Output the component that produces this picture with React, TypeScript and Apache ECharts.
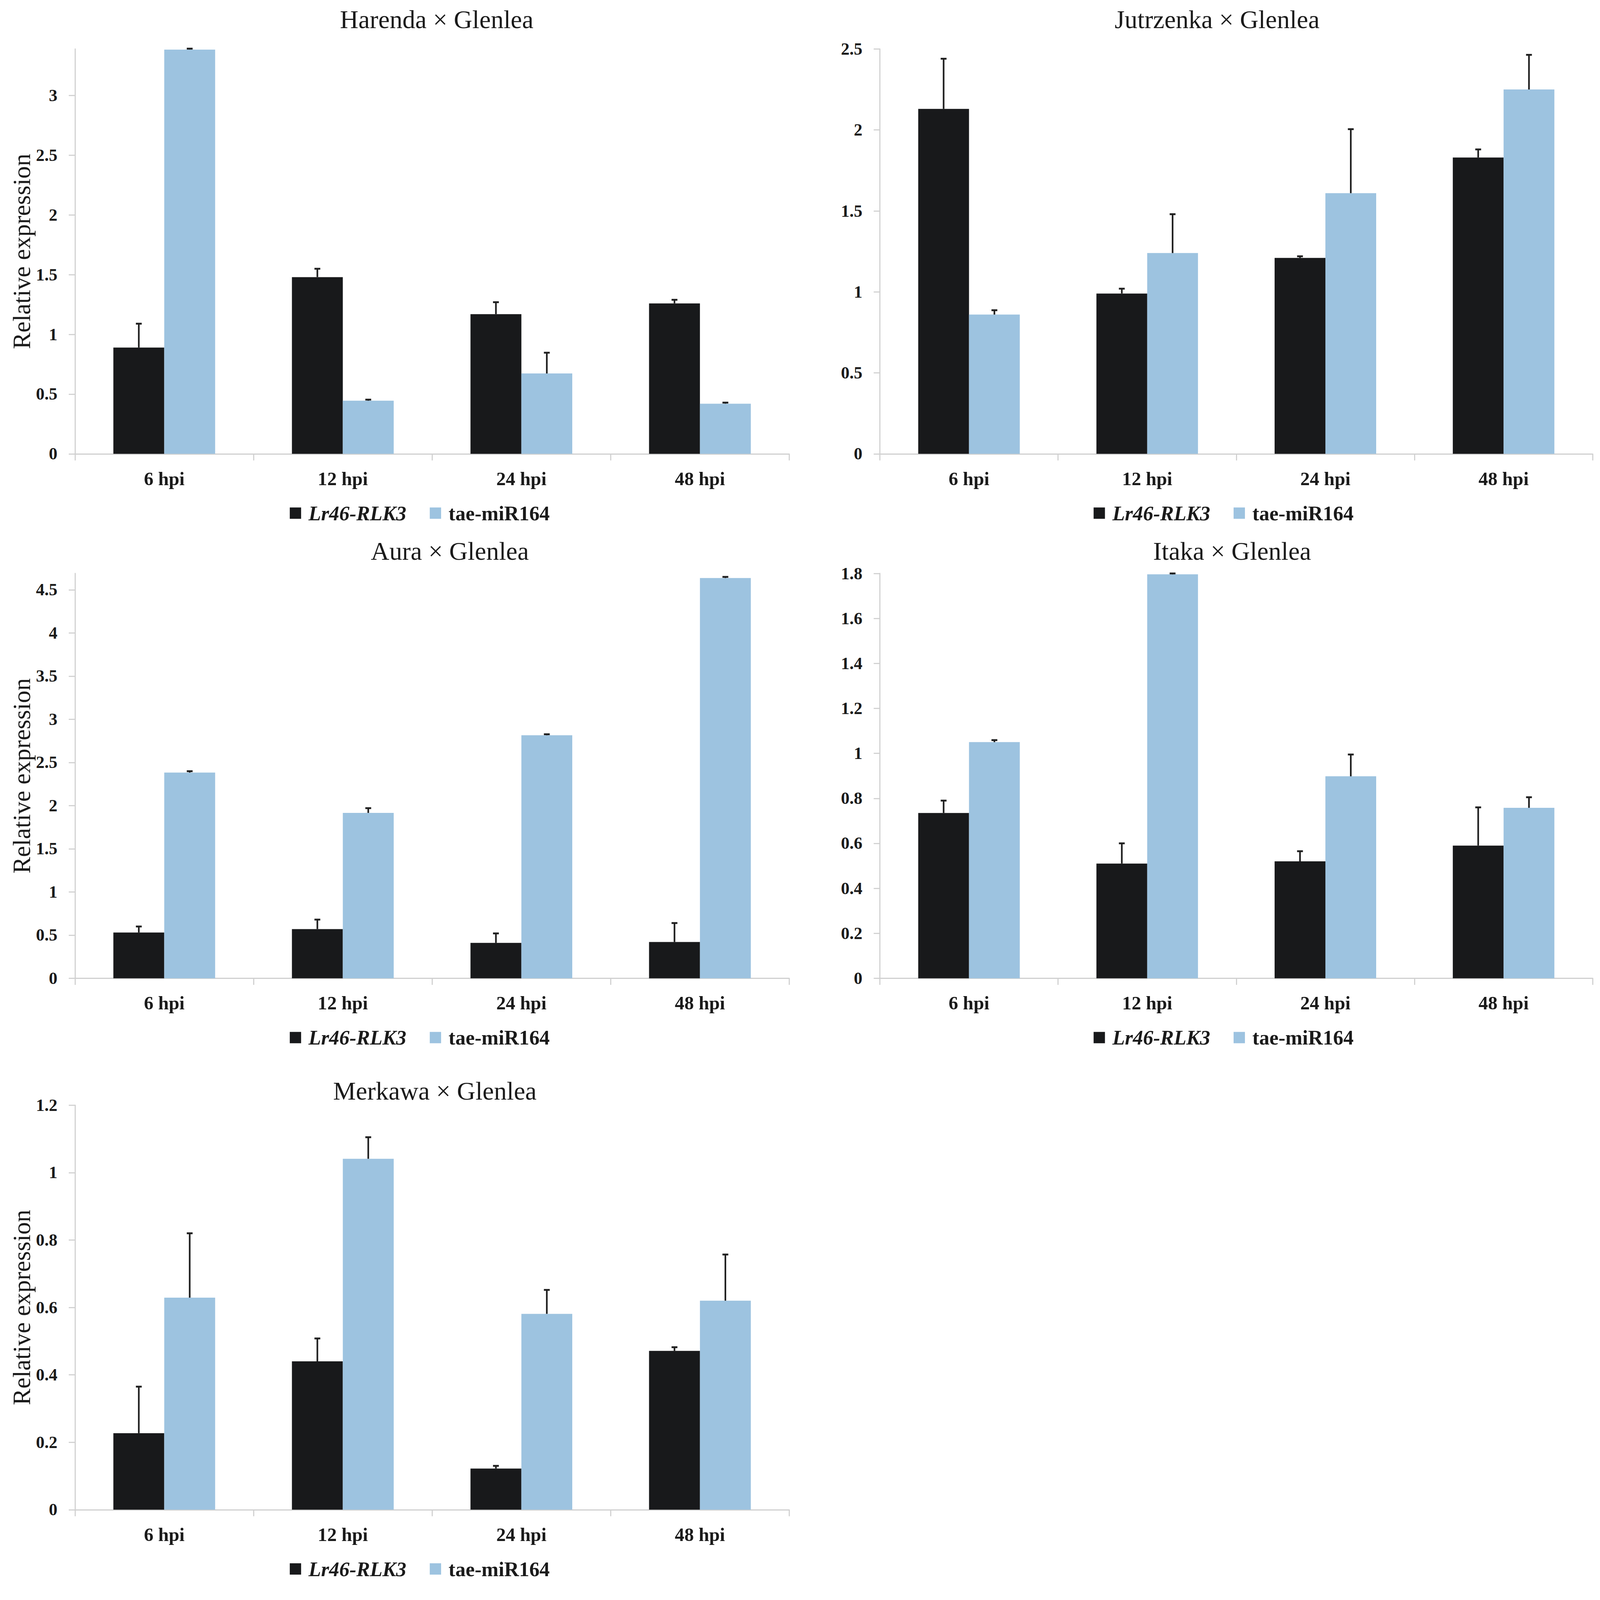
import React, { useEffect, useRef } from "react";
import * as echarts from "echarts";

const categories = ["6 hpi", "12 hpi", "24 hpi", "48 hpi"];
const seriesNames = ["Lr46-RLK3", "tae-miR164"];
const panelTitles = [
  "Harenda × Glenlea",
  "Jutrzenka × Glenlea",
  "Aura × Glenlea",
  "Itaka × Glenlea",
  "Merkawa × Glenlea",
];
const lrValues = [
  [0.89, 1.48, 1.17, 1.26],
  [2.13, 0.99, 1.21, 1.83],
  [0.53, 0.57, 0.41, 0.42],
  [0.735, 0.51, 0.52, 0.59],
  [0.227, 0.44, 0.122, 0.471],
];
const lrErrors = [
  [0.2, 0.07, 0.1, 0.03],
  [0.31, 0.03, 0.01, 0.05],
  [0.07, 0.11, 0.11, 0.22],
  [0.055, 0.09, 0.045, 0.17],
  [0.138, 0.068, 0.008, 0.011],
];
const taeValues = [
  [3.385, 0.445, 0.673, 0.42],
  [0.86, 1.24, 1.61, 2.25],
  [2.383, 1.916, 2.815, 4.637],
  [1.05, 1.796, 0.898, 0.758],
  [0.629, 1.041, 0.581, 0.62],
];
const taeErrors = [
  [0.008, 0.009, 0.174, 0.009],
  [0.027, 0.24, 0.395, 0.214],
  [0.016, 0.055, 0.012, 0.013],
  [0.009, 0.004, 0.097, 0.047],
  [0.191, 0.064, 0.071, 0.137],
];
const yMax = [3.39, 2.5, 4.69, 1.8, 1.2];
const yInterval = [0.5, 0.5, 0.5, 0.2, 0.2];
const showYName = [true, false, true, false, true];

const FONT = "'Liberation Serif', 'DejaVu Serif', serif";
const BLACK = "#18191b";
const BLUE = "#9dc3e0";
const AXIS = "#d0d0d0";
const TEXT = "#1a1a1a";
const CAT_GAP = 0.43;
const REF_W = 4375;
const REF_H = 4337;

const grids = [
  { left: 205, top: 134, width: 1953, height: 1107 },
  { left: 2406, top: 134, width: 1949, height: 1107 },
  { left: 205, top: 1568, width: 1953, height: 1107 },
  { left: 2406, top: 1568, width: 1949, height: 1107 },
  { left: 205, top: 3022, width: 1953, height: 1106 },
];
const titlePos = [
  [1194, 53],
  [3328, 53],
  [1230, 1507],
  [3369, 1507],
  [1189, 2983],
];
const legendPos = [
  [787, 1401],
  [2985, 1401],
  [787, 2835],
  [2985, 2835],
  [787, 4288],
];

export default function App() {
  const ref = useRef<HTMLDivElement>(null);
  useEffect(() => {
    const el = ref.current;
    if (!el) return;
    const vw = window.innerWidth || document.documentElement.clientWidth || REF_W;
    const vh = window.innerHeight || document.documentElement.clientHeight || REF_H;
    const s = Math.min(1, vw / REF_W, vh / REF_H);
    el.style.width = Math.floor(REF_W * s) + "px";
    el.style.height = Math.floor(REF_H * s) + "px";
    const chart = echarts.init(el, null, { renderer: "svg" });

    const xAxis: any[] = [];
    const yAxis: any[] = [];
    const series: any[] = [];
    const legend: any[] = [];
    const graphic: any[] = [];

    grids.forEach((g, i) => {
      xAxis.push({
        type: "category",
        gridIndex: i,
        data: categories,
        axisLine: { show: true, lineStyle: { color: AXIS, width: 3 * s } },
        axisTick: { show: true, length: 18 * s, lineStyle: { color: AXIS, width: 3 * s } },
        axisLabel: {
          margin: 42 * s,
          fontFamily: FONT,
          fontSize: 52 * s,
          fontWeight: "bold",
          color: TEXT,
        },
      });
      yAxis.push({
        type: "value",
        gridIndex: i,
        min: 0,
        max: yMax[i],
        interval: yInterval[i],
        name: showYName[i] ? "Relative expression" : "",
        nameLocation: "middle",
        nameGap: 112 * s,
        nameTextStyle: { fontFamily: FONT, fontSize: 68 * s, color: TEXT },
        axisLine: { show: true, lineStyle: { color: AXIS, width: 3 * s } },
        axisTick: { show: true, length: 17 * s, lineStyle: { color: AXIS, width: 3 * s } },
        splitLine: { show: false },
        axisLabel: {
          margin: 48 * s,
          showMaxLabel:
            Math.abs(yMax[i] / yInterval[i] - Math.round(yMax[i] / yInterval[i])) < 1e-6,
          fontFamily: FONT,
          fontSize: 47 * s,
          fontWeight: "bold",
          color: TEXT,
        },
      });
      series.push({
        type: "bar",
        name: seriesNames[0],
        xAxisIndex: i,
        yAxisIndex: i,
        data: lrValues[i],
        barGap: "0%",
        barCategoryGap: CAT_GAP * 100 + "%",
        itemStyle: { color: BLACK },
      });
      series.push({
        type: "bar",
        name: seriesNames[1],
        xAxisIndex: i,
        yAxisIndex: i,
        data: taeValues[i],
        barGap: "0%",
        barCategoryGap: CAT_GAP * 100 + "%",
        itemStyle: { color: BLUE },
      });
      const errData: any[] = [];
      categories.forEach((_, c) => {
        errData.push([c, lrValues[i][c], lrErrors[i][c], 0]);
        errData.push([c, taeValues[i][c], taeErrors[i][c], 1]);
      });
      series.push({
        type: "custom",
        xAxisIndex: i,
        yAxisIndex: i,
        z: 10,
        data: errData,
        renderItem: (params: any, api: any) => {
          const cat = api.value(0);
          const v = api.value(1);
          const e = api.value(2);
          const sIdx = api.value(3);
          const base = api.coord([cat, v]);
          const top = api.coord([cat, v + e]);
          const catW = api.size([1, 0])[0];
          const barW = (catW * (1 - CAT_GAP)) / 2;
          const x = base[0] + (sIdx === 0 ? -barW / 2 : barW / 2);
          return {
            type: "group",
            children: [
              {
                type: "line",
                shape: { x1: x, y1: base[1], x2: x, y2: top[1] },
                style: { stroke: "#1f1f1f", lineWidth: 4.5 * s },
              },
              {
                type: "line",
                shape: { x1: x - 8 * s, y1: top[1], x2: x + 8 * s, y2: top[1] },
                style: { stroke: "#1f1f1f", lineWidth: 5 * s },
              },
            ],
          };
        },
      });
      legend.push({
        show: true,
        data: seriesNames,
        left: legendPos[i][0] * s,
        top: (legendPos[i][1] - 31) * s,
        orient: "horizontal",
        icon: "rect",
        itemWidth: 31 * s,
        itemHeight: 31 * s,
        itemGap: 64 * s,
        selectedMode: false,
        formatter: (name: string) => (name === "Lr46-RLK3" ? `{i|${name}}` : `{b|${name}}`),
        textStyle: {
          padding: [0, 0, 0, 15 * s],
          fontFamily: FONT,
          fontSize: 56 * s,
          color: TEXT,
          rich: {
            i: { fontFamily: FONT, fontSize: 56 * s, fontStyle: "italic", fontWeight: "bold", color: TEXT },
            b: { fontFamily: FONT, fontSize: 56 * s, fontWeight: "bold", color: TEXT },
          },
        },
      });
      graphic.push({
        type: "text",
        x: titlePos[i][0] * s,
        y: titlePos[i][1] * s,
        style: {
          text: panelTitles[i],
          fontFamily: FONT,
          fontSize: 70 * s,
          fill: TEXT,
          align: "center",
          verticalAlign: "middle",
        },
      });
    });

    chart.setOption({
      animation: false,
      backgroundColor: "#ffffff",
      grid: grids.map((g) => ({
        left: g.left * s,
        top: g.top * s,
        width: g.width * s,
        height: g.height * s,
        containLabel: false,
      })),
      xAxis,
      yAxis,
      series,
      legend,
      graphic,
    });
    return () => chart.dispose();
  }, []);
  return (
    <div
      ref={ref}
      style={{ position: "absolute", left: 0, top: 0, width: REF_W, height: REF_H, background: "#fff" }}
    />
  );
}
